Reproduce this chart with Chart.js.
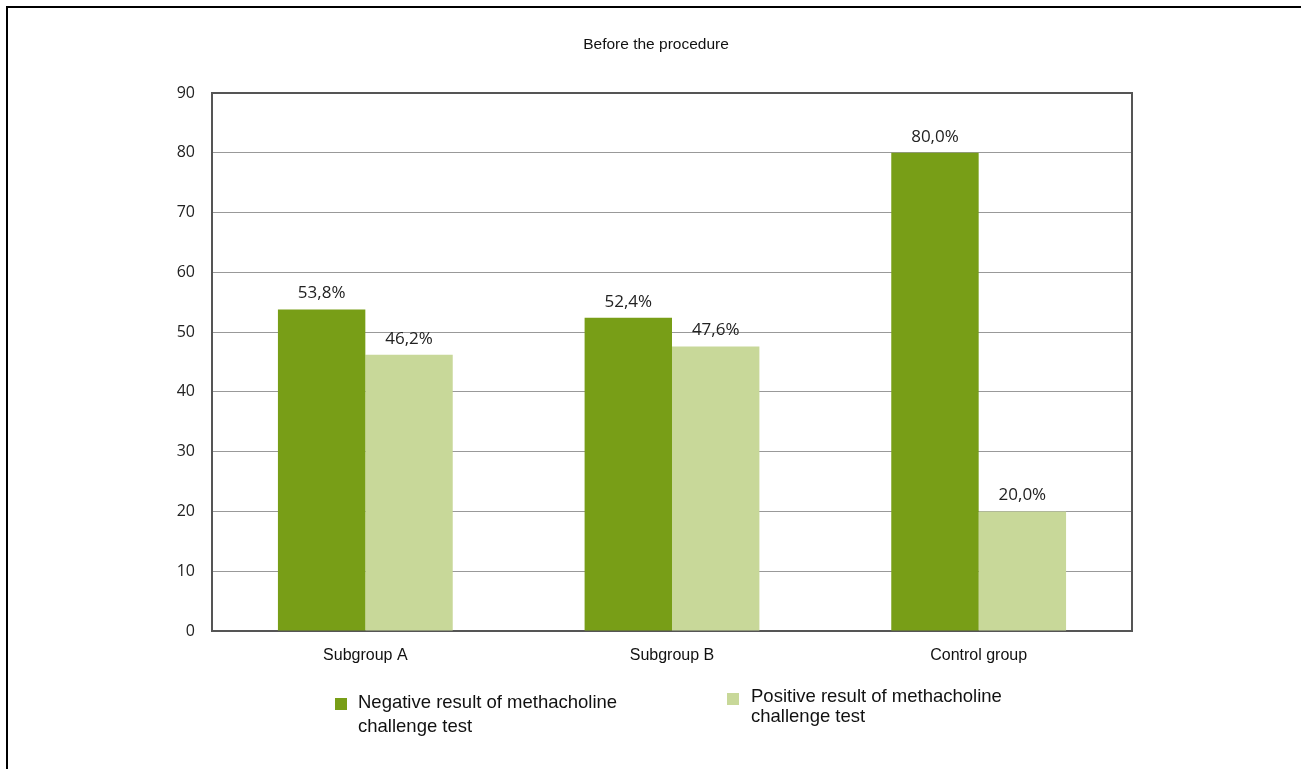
<!DOCTYPE html>
<html>
<head>
<meta charset="utf-8">
<title>Before the procedure</title>
<script src="https://cdn.jsdelivr.net/npm/chart.js@4.4.1/dist/chart.umd.min.js"></script>
<style>
  html, body { margin: 0; padding: 0; background: #fff; }
  #wrap { position: relative; width: 1301px; height: 769px; overflow: hidden; }
  #frame {
    position: absolute; left: 6px; top: 6px; right: -10px; bottom: -10px;
    border-left: 2px solid #000; border-top: 2px solid #000;
  }
  canvas { position: absolute; left: 0; top: 0; }
</style>
</head>
<body>
<div id="wrap">
  <div id="frame"></div>
  <canvas id="chart" width="1301" height="769"></canvas>
</div>
<script>
// values in percent
const groups = ["Subgroup A", "Subgroup B", "Control group"];
const negativeValues = [53.8, 52.4, 80.0];
const positiveValues = [46.2, 47.6, 20.0];
const negativeName = ["Negative result of methacholine", "challenge test"];
const positiveName = ["Positive result of methacholine", "challenge test"];
const yTicks = [0, 10, 20, 30, 40, 50, 60, 70, 80, 90];
const chartTitle = "Before the procedure";

const darkGreen = "#789e17";
const lightGreen = "#c8d899";

(function () {
    const ctx = document.getElementById("chart").getContext("2d");

    // title, frame round the plot, value labels and the legend are drawn by hand
    const extras = {
        id: "extras",
        beforeDatasetsDraw(chart) {
            const c = chart.ctx;
            const a = chart.chartArea;
            c.save();
            c.strokeStyle = "#555";
            c.lineWidth = 2;
            c.strokeRect(a.left, a.top, a.right - a.left, a.bottom - a.top);
            c.restore();
        },
        afterDatasetsDraw(chart) {
            const c = chart.ctx;
            c.save();
            c.fillStyle = "#222";
            c.font = "17px 'Open Sans'";
            c.textAlign = "center";
            c.textBaseline = "alphabetic";
            chart.data.datasets.forEach((ds, i) => {
                chart.getDatasetMeta(i).data.forEach((bar, j) => {
                    const txt = ds.data[j].toFixed(1).replace(".", ",") + "%";
                    c.fillText(txt, bar.x, bar.y - 11);
                });
            });
            c.restore();
        },
        afterDraw(chart) {
            const c = chart.ctx;
            c.save();
            c.fillStyle = "#111";
            c.font = "15.5px 'Liberation Sans', Arial";
            c.textAlign = "center";
            c.textBaseline = "alphabetic";
            c.fillText(chartTitle, 656, 49);

            // legend, two items with wrapped names
            const items = [
                { color: darkGreen, lines: negativeName, box: [335, 698], text: [358, 708], gap: 23.5 },
                { color: lightGreen, lines: positiveName, box: [727, 693], text: [751, 701.5], gap: 20.5 }
            ];
            c.font = "18.5px 'Liberation Sans', Arial";
            c.textAlign = "left";
            items.forEach(it => {
                c.fillStyle = it.color;
                c.fillRect(it.box[0], it.box[1], 12, 12);
                c.fillStyle = "#111";
                it.lines.forEach((ln, k) => c.fillText(ln, it.text[0], it.text[1] + k * it.gap));
            });
            c.restore();
        }
    };

    new Chart(ctx, {
        type: "bar",
        data: {
            labels: groups,
            datasets: [
                {
                    label: negativeName.join(" "),
                    data: negativeValues,
                    backgroundColor: darkGreen,
                    categoryPercentage: 0.57,
                    barPercentage: 1.0
                },
                {
                    label: positiveName.join(" "),
                    data: positiveValues,
                    backgroundColor: lightGreen,
                    categoryPercentage: 0.57,
                    barPercentage: 1.0
                }
            ]
        },
        options: {
            responsive: false,
            animation: false,
            layout: { padding: { left: 0, top: 93, right: 169, bottom: 88 } },
            plugins: {
                legend: { display: false },
                title: { display: false },
                tooltip: { enabled: false }
            },
            scales: {
                x: {
                    grid: { display: false },
                    border: { display: false },
                    ticks: {
                        color: "#111",
                        font: { family: "'Liberation Sans', Arial", size: 16 },
                        padding: 7
                    },
                    afterFit(scale) { scale.height = 50; }
                },
                y: {
                    min: 0,
                    max: 90,
                    grid: { color: "#999", lineWidth: 1, drawTicks: false },
                    border: { display: false },
                    ticks: {
                        stepSize: 10,
                        color: "#222",
                        font: { family: "'Open Sans'", size: 16 },
                        padding: 17,
                        callback: v => yTicks.includes(v) ? String(v) : ""
                    },
                    afterFit(scale) { scale.width = 212; }
                }
            }
        },
        plugins: [extras]
    });
})();
</script>
</body>
</html>
